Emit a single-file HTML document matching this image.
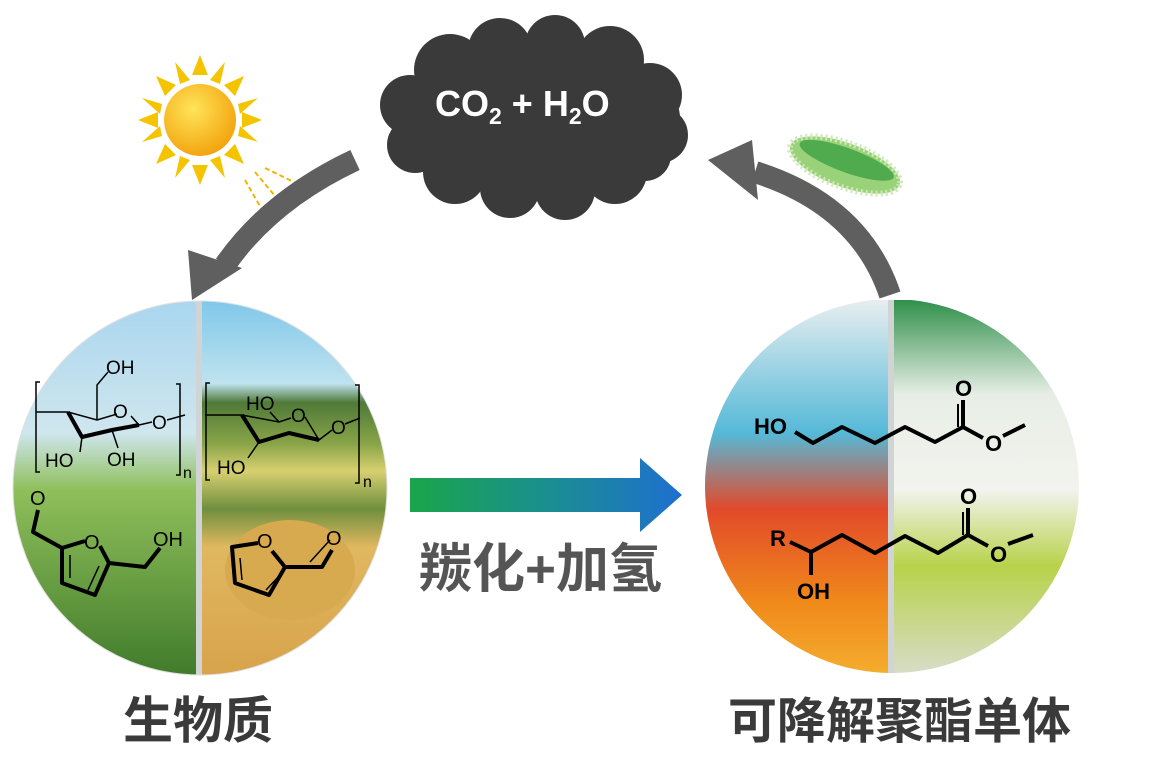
<!DOCTYPE html>
<html><head><meta charset="utf-8"><style>
html,body{margin:0;padding:0;background:#fff;}
svg{display:block;}
text{font-family:"Liberation Sans","Noto Sans CJK SC",sans-serif;}
</style></head><body>
<svg width="1149" height="776" viewBox="0 0 1149 776" xmlns="http://www.w3.org/2000/svg">
<defs>
<clipPath id="cl"><circle cx="200" cy="488" r="187"/></clipPath>
<clipPath id="cr"><circle cx="892" cy="486" r="187"/></clipPath>
<linearGradient id="corn" x1="0" y1="0" x2="0" y2="1">
<stop offset="0" stop-color="#a9d6ef"/><stop offset="0.35" stop-color="#cfe6ee"/><stop offset="0.5" stop-color="#8fbf5a"/><stop offset="1" stop-color="#3f7a2a"/></linearGradient>
<linearGradient id="field" x1="0" y1="0" x2="0" y2="1">
<stop offset="0" stop-color="#7fc7ea"/><stop offset="0.22" stop-color="#bfe3ef"/><stop offset="0.27" stop-color="#4f7a38"/><stop offset="0.38" stop-color="#8aa548"/><stop offset="0.45" stop-color="#d8d070"/><stop offset="0.55" stop-color="#6f8f3e"/><stop offset="0.65" stop-color="#e0b860"/><stop offset="1" stop-color="#d7a24a"/></linearGradient>
<linearGradient id="lab" x1="0" y1="0" x2="0" y2="1">
<stop offset="0" stop-color="#e8eef0"/><stop offset="0.35" stop-color="#55b9d8"/><stop offset="0.55" stop-color="#e24a2a"/><stop offset="0.8" stop-color="#f08a1a"/><stop offset="1" stop-color="#f4b030"/></linearGradient>
<linearGradient id="grn" x1="0" y1="0" x2="0" y2="1">
<stop offset="0" stop-color="#2f8f4a"/><stop offset="0.25" stop-color="#e8eee6"/><stop offset="0.5" stop-color="#f2f3ee"/><stop offset="0.7" stop-color="#b8d24a"/><stop offset="1" stop-color="#d9ddcf"/></linearGradient>
<linearGradient id="arr" x1="0" y1="0" x2="1" y2="0">
<stop offset="0" stop-color="#1aa54a"/><stop offset="0.5" stop-color="#1a8f8f"/><stop offset="1" stop-color="#1f6fd0"/></linearGradient>
<radialGradient id="sun" cx="0.4" cy="0.35" r="0.7"><stop offset="0" stop-color="#ffe45a"/><stop offset="1" stop-color="#f2a10a"/></radialGradient>
</defs>

<!-- cloud -->
<g fill="#3a3a3a">
<ellipse cx="535" cy="118" rx="145" ry="72"/>
<circle cx="450" cy="70" r="36"/><circle cx="500" cy="50" r="32"/><circle cx="555" cy="45" r="30"/><circle cx="610" cy="60" r="34"/>
<circle cx="650" cy="95" r="32"/><circle cx="660" cy="135" r="28"/><circle cx="410" cy="105" r="30"/><circle cx="415" cy="145" r="28"/>
<circle cx="455" cy="172" r="32"/><circle cx="510" cy="188" r="30"/><circle cx="565" cy="190" r="30"/><circle cx="615" cy="172" r="32"/><circle cx="645" cy="155" r="26"/>
</g>
<text x="435" y="116" font-size="36" font-weight="bold" fill="#fff">CO<tspan font-size="23" dy="8">2</tspan><tspan dy="-8"> + H</tspan><tspan font-size="23" dy="8">2</tspan><tspan dy="-8">O</tspan></text>

<!-- sun -->
<g fill="#f5c400">
<polygon points="200,55 192,75 208,75"/><polygon points="200,185 192,165 208,165"/>
<polygon points="138,120 158,112 158,128"/><polygon points="262,120 242,112 242,128"/>
<polygon points="156,76 165,96 176,85"/><polygon points="244,76 235,96 224,85"/>
<polygon points="156,164 165,144 176,155"/><polygon points="244,164 235,144 224,155"/>
<polygon points="175,62 180,84 190,80"/><polygon points="225,62 220,84 210,80"/>
<polygon points="142,98 162,104 160,114"/><polygon points="258,98 238,104 240,114"/>
<polygon points="142,142 162,136 160,126"/><polygon points="258,142 238,136 240,126"/>
<polygon points="175,178 180,156 190,160"/><polygon points="225,178 220,156 210,160"/>
</g>
<circle cx="200" cy="120" r="36" fill="url(#sun)"/>
<g stroke="#f2b500" stroke-width="2" stroke-dasharray="5,3">
<line x1="245" y1="180" x2="265" y2="215"/><line x1="255" y1="172" x2="285" y2="208"/><line x1="265" y1="168" x2="300" y2="185"/>
</g>

<!-- left curved arrow -->
<path d="M355,160 Q270,200 225,265" stroke="#5f5f5f" stroke-width="22" fill="none"/>
<polygon points="192,300 188,250 242,268" fill="#5f5f5f"/>
<!-- right curved arrow -->
<path d="M890,295 Q860,205 755,172" stroke="#5f5f5f" stroke-width="22" fill="none"/>
<polygon points="708,160 752,140 758,200" fill="#5f5f5f"/>
<!-- bacteria -->
<g transform="rotate(20 845 165)">
<ellipse cx="845" cy="165" rx="58" ry="22" fill="#9ad27a" stroke="#cfe9b8" stroke-width="6" stroke-dasharray="2,3"/>
<ellipse cx="845" cy="160" rx="50" ry="12" fill="#2f9a3a" opacity="0.7"/>
</g>

<!-- left circle -->
<g clip-path="url(#cl)">
<rect x="10" y="300" width="190" height="380" fill="url(#corn)"/>
<rect x="200" y="300" width="190" height="380" fill="url(#field)"/>
<ellipse cx="290" cy="570" rx="65" ry="50" fill="#d8aa50"/>
<rect x="196" y="300" width="6" height="380" fill="#d0d4d4"/>
</g>
<circle cx="200" cy="488" r="187" fill="none" stroke="#e0e0e0" stroke-width="1"/>

<!-- right circle -->
<g clip-path="url(#cr)">
<rect x="700" y="300" width="192" height="380" fill="url(#lab)"/>
<rect x="892" y="300" width="192" height="380" fill="url(#grn)"/>
<rect x="888" y="300" width="6" height="380" fill="#d0d4d4"/>
</g>

<!-- left structures -->
<g fill="none" stroke="#000" stroke-width="1.5">
<path d="M40,382 h-4 v90 h4 M176,384 h4 v91 h-4"/>
<path d="M36,412 L68,412 L97,420 L117,414 M131,416 L139,425 L152,422 M167,420 L185,415 M97,420 L97,385 L108,372"/>
<path d="M82,437 L80,452 M112,430 L118,448"/>
<path d="M210,383 h-4 v97 h4 M355,385 h4 v98 h-4"/>
<path d="M205,415 L242,415 L279,422 L291,418 M305,417 L319,440 L332,430 M345,424 L360,418 M279,422 L270,412 M259,442 L248,458"/>
<path d="M70,555 L70,578 M99,566 L88,590 M280,575 L266,590 M240,558 L242,580 M310,562 L330,540"/>
</g>
<g fill="none" stroke="#000" stroke-width="4" stroke-linejoin="round">
<path d="M68,412 L82,437 L112,430 L139,425"/>
<path d="M242,415 L259,442 L289,433 L319,440"/>
<path d="M38,510 L33,532 L62,548 L85,541 M100,546 L109,563 L95,595 L62,583 L62,548 M109,563 L145,567 L160,548"/>
<path d="M258,543 L232,547 L235,583 L269,595 L285,567 L272,551 M285,567 L322,567 L332,550"/>
</g>
<g font-size="19" fill="#000">
<text x="106" y="374">OH</text><text x="113" y="418">O</text><text x="152" y="429">O</text>
<text x="45" y="467">HO</text><text x="107" y="466">OH</text><text x="183" y="478" font-size="16">n</text>
<text x="246" y="410">HO</text><text x="291" y="422">O</text><text x="331" y="434">O</text>
<text x="217" y="474">HO</text><text x="363" y="487" font-size="16">n</text>
<text x="30" y="505" font-size="20">O</text><text x="84" y="549" font-size="20">O</text><text x="153" y="546" font-size="20">OH</text>
<text x="257" y="548" font-size="20">O</text><text x="326" y="545" font-size="20">O</text>
</g>

<!-- right structures -->
<g fill="none" stroke="#000" stroke-width="4" stroke-linejoin="round">
<path d="M795,432 L813,443 L842,427 L875,443 L905,427 L935,442 L963,427 L983,438 M1003,436 L1025,425 M963,427 L963,400"/>
<path d="M790,542 L811,552 L842,535 L875,553 L905,536 L938,553 L968,535 L988,546 M1008,544 L1033,535 M968,535 L968,508 M811,552 L811,575"/>
</g>
<path d="M958,427 L958,404 M963,535 L963,512" stroke="#000" stroke-width="2"/>
<g font-size="22" fill="#000" font-weight="bold">
<text x="754" y="434">HO</text><text x="955" y="396">O</text><text x="985" y="451">O</text>
<text x="770" y="546">R</text><text x="797" y="599">OH</text><text x="960" y="504">O</text><text x="990" y="562">O</text>
</g>

<!-- middle arrow -->
<polygon points="410,478 640,478 640,458 682,495 640,532 640,512 410,512" fill="url(#arr)"/>
<text x="419" y="587" font-size="53" font-weight="bold" fill="#555">羰化+加氢</text>
<text x="123" y="738" font-size="50" font-weight="bold" fill="#3a3a3a">生物质</text>
<text x="728" y="738" font-size="49" font-weight="bold" fill="#3a3a3a">可降解聚酯单体</text>
</svg>
</body></html>
